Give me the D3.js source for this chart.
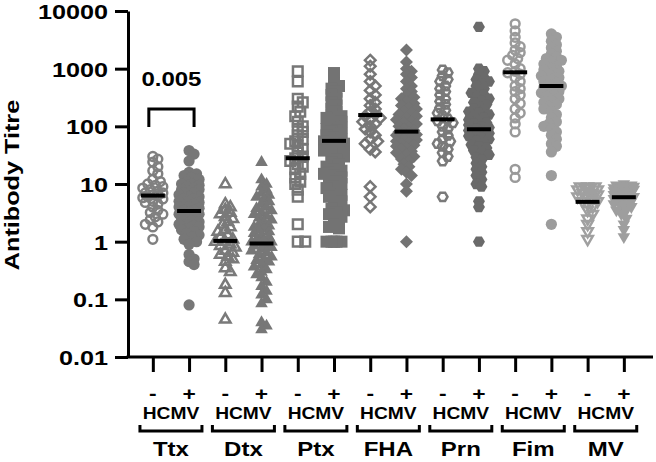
<!DOCTYPE html>
<html><head><meta charset="utf-8">
<script src="https://cdn.jsdelivr.net/npm/d3@7"></script>
<style>body{margin:0;background:#fff}svg{display:block}text{font-family:"Liberation Sans",Arial,sans-serif;font-weight:bold;fill:#000}</style>
</head><body>
<svg id="chart" width="656" height="462"></svg>
<script>
// ---------- data ----------
const antigens = ["Ttx","Dtx","Ptx","FHA","Prn","Fim","MV"];
const hcmvGroups = ["-","+"];
const yTicks = [0.01,0.1,1,10,100,1000,10000];
const yTickLabels = ["0.01","0.1","1","10","100","1000","10000"];
const yLabel = "Antibody Titre";
const groupLabel = "HCMV";
const pValueLabel = "0.005";
const medians = [6.3,3.4,1.03,0.93,28,56,157,81,132,89,865,500,4.9,5.9];

const ttxNeg = [30,27,24,20,17,15,12,11,10,9.5,9,8.5,8,7.5,7,7,6.5,6.3,6,5.8,5.5,5,4.8,4.5,4,3.5,3.2,3,2.7,2.4,2.2,2,1.8,1.1];
const ttxPos = [38,33,25,16,15,14,13,12,11,10,10,9.5,9,8.5,8,8,7.5,7,7,6.5,6,6,5.5,5.5,5,5,4.8,4.5,4.3,4,4,3.8,3.5,3.5,3.3,3,3,2.8,2.6,2.5,2.3,2.2,2,2,1.9,1.8,1.7,1.6,1.5,1.4,1.3,1.2,1.1,1,0.9,0.6,0.5,0.45,0.4,0.08];
const dtxNeg = [10,4.5,4,3.6,3.2,3,2.7,2.5,2.2,2,1.8,1.6,1.5,1.3,1.2,1.1,1,1,0.9,0.85,0.8,0.7,0.65,0.6,0.55,0.5,0.45,0.35,0.3,0.18,0.13,0.045];
const dtxPos = [24,12,10,9,8,7,6.5,6,5.5,5,4.5,4,3.8,3.5,3.2,3,2.8,2.6,2.4,2.2,2,1.9,1.8,1.7,1.6,1.5,1.4,1.3,1.2,1.1,1.05,1,1,0.95,0.9,0.85,0.8,0.75,0.7,0.65,0.6,0.55,0.5,0.48,0.45,0.4,0.37,0.33,0.3,0.27,0.24,0.2,0.17,0.14,0.12,0.1,0.085,0.04,0.035,0.03];
const ptxNeg = [900,600,300,260,220,180,150,120,100,90,80,70,60,55,50,45,40,35,30,28,25,22,20,18,15,13,11,10,8,6,2,1,1];
const ptxPos = [840,560,500,450,400,350,300,260,230,200,180,160,150,140,130,120,110,100,95,90,85,80,75,70,65,60,58,55,52,50,48,45,42,40,38,35,32,30,27,24,22,20,18,17,16,15,14,13,12,11,10,9,8.5,8,7,6.5,6,5.5,5,4.5,4,3.7,3.5,3.2,3,2.7,2.5,2.2,2,1.8,1.7,1,1,1,1,1];
const fhaNeg = [1400,1100,800,600,500,420,350,300,260,230,200,180,160,150,140,130,120,110,100,90,80,70,60,55,50,40,36,9,6,4];
const fhaPos = [2100,1300,1000,900,800,700,600,500,450,400,350,320,300,270,250,230,210,200,180,170,160,150,140,130,120,115,110,100,95,90,85,80,78,75,72,70,65,60,58,55,52,50,47,45,42,40,37,35,32,30,27,25,22,20,18,16,14,10,7.5,1];
const prnNeg = [950,850,750,650,600,500,450,400,350,300,270,240,210,190,170,150,135,125,115,100,90,80,70,60,55,50,45,40,35,30,25,6];
const prnPos = [5300,1000,900,800,700,650,600,550,500,450,400,380,350,320,300,280,260,240,220,200,190,180,170,160,150,140,130,120,115,110,105,100,95,90,85,80,76,72,68,64,60,56,52,48,45,42,38,35,32,29,26,23,20,18,16,14,12,10,9,5,4,1];
const fimNeg = [6000,4500,3500,2800,2400,2100,1900,1700,1500,1400,1200,1000,900,850,800,700,600,500,450,400,350,300,250,200,170,140,110,80,18,13];
const fimPos = [4000,3500,3000,2600,2300,2000,1800,1600,1500,1400,1300,1200,1100,1000,950,900,850,800,750,700,650,600,560,530,500,470,450,420,400,380,350,330,300,280,260,240,220,200,180,160,140,120,110,100,90,80,70,60,50,45,36,14,2];
const mvNeg = [9,9,9,8.5,8.5,8,8,7.5,7,7,6.5,6,6,5.5,5,5,4.5,4,3.5,3,2.5,2,1.5,1.1];
const mvPos = [10,9.5,9.5,9,9,9,8.5,8.5,8,8,8,7.5,7.5,7,7,7,6.5,6.5,6,6,6,5.5,5.5,5,5,4.5,4.5,4,4,3.5,3.5,3,2.5,2,1.6,1.2];

const seriesValues = [ttxNeg,ttxPos,dtxNeg,dtxPos,ptxNeg,ptxPos,fhaNeg,fhaPos,prnNeg,prnPos,fimNeg,fimPos,mvNeg,mvPos];

// ---------- styles ----------
const shapes = ["circle","circle","tri","tri","square","square","diamond","diamond","hex","hex","circle","circle","tridown","tridown"];
const colors = ["#808080","#777777","#7a7a7a","#777777","#777777","#737373","#777777","#737373","#7a7a7a","#6a6a6a","#9a9a9a","#9c9c9c","#a0a0a0","#9e9e9e"];

const svg = d3.select("#chart");
const xAxisY = 357, yAxisX = 128;

const keys = [];
antigens.forEach(a => hcmvGroups.forEach(g => keys.push(a + g)));

const x = d3.scalePoint().domain(keys).range([yAxisX, 653]).padding(0.745).align(0.46);
const y = d3.scaleLog().domain([0.01, 10000]).range([xAxisY, 11]);

function stext(sel, tx, ty, str, size, anchor) {
  return sel.append("text")
    .attr("transform", `translate(${tx},${ty}) scale(1.2,1)`)
    .attr("text-anchor", anchor || "middle")
    .style("font-size", size + "px")
    .text(str);
}

function shapePath(type, r) {
  const p = d3.path();
  if (type === "circle") { p.arc(0, 0, r, 0, 2 * Math.PI); p.closePath(); }
  else if (type === "square") { p.rect(-r, -r, 2 * r, 2 * r); }
  else if (type === "diamond") { p.moveTo(0, -r); p.lineTo(r, 0); p.lineTo(0, r); p.lineTo(-r, 0); p.closePath(); }
  else if (type === "hex") {
    for (let i = 0; i < 6; i++) { const a = i * Math.PI / 3; const px = r * Math.cos(a), py = r * Math.sin(a); i ? p.lineTo(px, py) : p.moveTo(px, py); }
    p.closePath();
  }
  else if (type === "tri" || type === "tridown") {
    const s = type === "tri" ? 1 : -1;
    p.moveTo(0, -s * r); p.lineTo(r * 0.9, s * r * 0.55); p.lineTo(-r * 0.9, s * r * 0.55); p.closePath();
  }
  return p.toString();
}
const shapeR = {circle: 5.6, square: 6, diamond: 6.5, hex: 6, tri: 7, tridown: 7};

function swarm(vals, cx) {
  const pts = vals.map(v => ({v, y: y(v)})).sort((a, b) => a.y - b.y);
  const placed = [];
  const D = 5.5, S = 2.5, M = 10;
  const offs = [0];
  for (let k = S; k <= M; k += S) offs.push(k, -k);
  pts.forEach(p => {
    let best = 0, bestD = -1;
    for (const o of offs) {
      let md = Infinity;
      for (const q of placed) {
        if (Math.abs(q.y - p.y) > D) continue;
        const dd = Math.hypot(q.dx - o, q.y - p.y);
        if (dd < md) md = dd;
      }
      if (md >= D) { best = o; bestD = md; break; }
      if (md > bestD) { bestD = md; best = o; }
    }
    p.dx = best; placed.push(p);
  });
  return pts.map(p => ({v: p.v, x: cx + p.dx, y: p.y}));
}

const gPts = svg.append("g");
seriesValues.forEach((vals, i) => {
  const cx = x(keys[i]);
  const open = i % 2 === 0;
  const type = shapes[i];
  const r = open ? shapeR[type] - 1.2 : shapeR[type];
  const pts = swarm(vals, cx);
  gPts.append("g").selectAll("path").data(pts).join("path")
    .attr("transform", d => `translate(${d.x},${d.y})`)
    .attr("d", shapePath(type, r))
    .attr("fill", open ? "none" : colors[i])
    .attr("stroke", open ? colors[i] : "none")
    .attr("stroke-width", open ? 2.5 : 0);
});

svg.append("g").selectAll("line").data(medians).join("line")
  .attr("x1", (d, i) => x(keys[i]) - 12).attr("x2", (d, i) => x(keys[i]) + 12)
  .attr("y1", d => y(d)).attr("y2", d => y(d))
  .attr("stroke", "#000").attr("stroke-width", 4);

const yAxis = svg.append("g").attr("transform", `translate(${yAxisX},0)`)
  .call(d3.axisLeft(y).tickValues(yTicks).tickFormat((d, i) => yTickLabels[i]).tickSize(13).tickSizeOuter(0));
yAxis.attr("font-family", null).attr("font-size", null);
yAxis.select(".domain").attr("stroke-width", 3).attr("stroke", "#000");
yAxis.selectAll(".tick line").attr("stroke-width", 3).attr("stroke", "#000");
yAxis.selectAll(".tick text").attr("x", null).attr("dy", "0.36em")
  .attr("transform", "translate(-20,0) scale(1.2,1)")
  .style("font-size", "21px").attr("fill", "#000");

const xAxis = svg.append("g").attr("transform", `translate(0,${xAxisY})`)
  .call(d3.axisBottom(x).tickSize(15).tickSizeOuter(0).tickFormat(""));
xAxis.select(".domain").attr("stroke-width", 3).attr("stroke", "#000").attr("d", `M${yAxisX - 1.5},0H653`);
xAxis.selectAll(".tick line").attr("stroke-width", 3).attr("stroke", "#000");

keys.forEach((k, i) => stext(svg, x(k), 400, hcmvGroups[i % 2], 19));

antigens.forEach(a => {
  const c = (x(a + "-") + x(a + "+")) / 2;
  stext(svg, c, 419, groupLabel, 16);
  svg.append("path").attr("d", `M${c - 31},425V431H${c + 31}V425`)
    .attr("fill", "none").attr("stroke", "#000").attr("stroke-width", 3);
  stext(svg, c, 456, a, 20);
});

svg.append("text").attr("transform", "translate(19,185) rotate(-90) scale(1.2,1)")
  .attr("text-anchor", "middle").style("font-size", "21px").text(yLabel);

const b1 = x("Ttx-") - 4, b2 = x("Ttx+") + 5;
svg.append("path").attr("d", `M${b1},127V109H${b2}V127`).attr("fill", "none").attr("stroke", "#000").attr("stroke-width", 3);
stext(svg, (b1 + b2) / 2, 86, pValueLabel, 20);
</script>
</body></html>
